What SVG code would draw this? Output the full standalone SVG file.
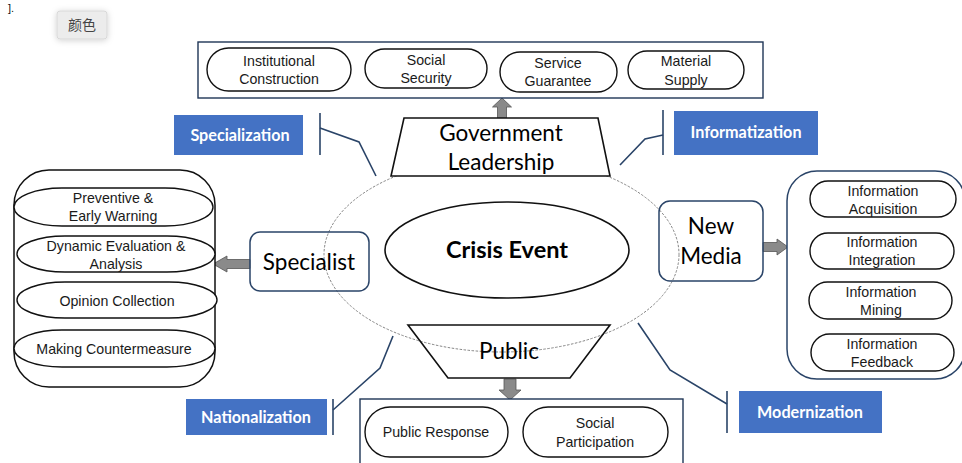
<svg xmlns="http://www.w3.org/2000/svg" width="962" height="463" viewBox="0 0 962 463">
  <defs>
    <filter id="btnShadow" x="-40%" y="-60%" width="180%" height="220%">
      <feDropShadow dx="0" dy="1" stdDeviation="3" flood-color="#000" flood-opacity="0.18"/>
    </filter>
  </defs>
  <style>
    .pill { fill: #fff; stroke: #111; stroke-width: 1.4; }
    .frame { fill: #fff; stroke: #1f3556; stroke-width: 1.4; }
    .navy { fill: #fff; stroke: #2a4468; stroke-width: 1.5; }
    .shape { fill: #fff; stroke: #111; stroke-width: 1.6; }
    .small { font-family: "Liberation Sans", Arial, sans-serif; font-size: 14.2px; fill: #1a1a1a; text-anchor: middle; }
    .big { font-family: Lato, "Liberation Sans", sans-serif; font-size: 22.5px; fill: #000; text-anchor: middle; }
    .tag { fill: #4472c4; }
    .tagtext { font-family: Lato, "Liberation Sans", sans-serif; font-size: 16.2px; font-weight: bold; fill: #fff; text-anchor: middle; }
    .link { fill: none; stroke: #2a4468; stroke-width: 1.6; }
    .arrow { fill: #8a8a8a; stroke: #555; stroke-width: 0.8; }
  </style>

  <!-- fragment of a caption at the top edge -->
  <text x="8" y="12" font-family="Liberation Sans, sans-serif" font-size="11" fill="#111">].</text>

  <!-- colour button -->
  <g id="color-button">
    <rect x="57" y="11" width="50" height="28" rx="3" fill="#ececec" stroke="#d8d8d8" filter="url(#btnShadow)"/>
    <text x="82" y="30" font-family="Noto Sans CJK SC, sans-serif" font-size="14" fill="#444" text-anchor="middle">颜色</text>
  </g>

  <!-- outer dashed ring -->
  <g id="ring">
    <ellipse cx="501.5" cy="254.5" rx="177.5" ry="97.5" fill="none" stroke="#777" stroke-width="0.9" stroke-dasharray="2.5,1.5"/>
  </g>

  <!-- connectors -->
  <g id="connectors">
    <!-- Specialization -->
    <line x1="320" y1="113" x2="320" y2="155" class="link"/>
    <polyline points="320,128 359,142 376,176" class="link"/>
    <!-- Informatization -->
    <line x1="663" y1="110" x2="663" y2="155" class="link"/>
    <polyline points="663,135 645,139 620,165" class="link"/>
    <!-- Modernization -->
    <line x1="727" y1="391" x2="727" y2="433" class="link"/>
    <polyline points="727,404 670,370 638,323" class="link"/>
    <!-- Nationalization -->
    <line x1="333" y1="399" x2="333" y2="435" class="link"/>
    <polyline points="333,410 380,368 393,336" class="link"/>
    <!-- block arrows -->
    <polygon class="arrow" points="497.5,118 497.5,107 492.5,107 502,98 511.5,107 506.5,107 506.5,118"/>
    <polygon class="arrow" points="250,259.5 227,259.5 227,256 213,264 227,272 227,268.5 250,268.5"/>
    <polygon class="arrow" points="763,242.5 777,242.5 777,239 788,247 777,255 777,251.5 763,251.5"/>
    <polygon class="arrow" points="504,379 504,390 499,390 510,400 521,390 516,390 516,379"/>
  </g>

  <!-- government measures -->
  <g id="government-box">
    <rect class="frame" x="198" y="42" width="565" height="56"/>
    <rect class="pill" x="207" y="48" width="144" height="43" rx="21.5"/>
    <text class="small" x="279" y="66">Institutional</text>
    <text class="small" x="279" y="84">Construction</text>
    <rect class="pill" x="365" y="49" width="122" height="39" rx="19.5"/>
    <text class="small" x="426" y="65">Social</text>
    <text class="small" x="426" y="83">Security</text>
    <rect class="pill" x="500" y="52" width="117" height="40" rx="20"/>
    <text class="small" x="558" y="68">Service</text>
    <text class="small" x="558" y="86">Guarantee</text>
    <rect class="pill" x="628" y="51" width="116" height="38" rx="19"/>
    <text class="small" x="686" y="66">Material</text>
    <text class="small" x="686" y="85">Supply</text>
  </g>

  <g id="government-leadership">
    <polygon class="shape" points="404,118 598,118 610,176 391,176"/>
    <text class="big" x="501" y="141">Government</text>
    <text class="big" x="501" y="170">Leadership</text>
  </g>

  <g id="tag-specialization">
    <rect class="tag" x="174" y="115" width="129" height="40"/>
    <text class="tagtext" x="240" y="141">Specialization</text>
  </g>
  <g id="tag-informatization">
    <rect class="tag" x="674" y="111" width="144" height="44"/>
    <text class="tagtext" x="746" y="138">Informatization</text>
  </g>
  <g id="tag-nationalization">
    <rect class="tag" x="186" y="399" width="141" height="36"/>
    <text class="tagtext" x="256" y="423">Nationalization</text>
  </g>
  <g id="tag-modernization">
    <rect class="tag" x="739" y="391" width="143" height="42"/>
    <text class="tagtext" x="810" y="418">Modernization</text>
  </g>

  <g id="crisis-event">
    <ellipse cx="507" cy="250" rx="122" ry="48" fill="#fff" stroke="#111" stroke-width="1.6"/>
    <text x="507" y="258" font-family="Lato, Liberation Sans, sans-serif" font-size="23.5" font-weight="bold" text-anchor="middle" fill="#000">Crisis Event</text>
  </g>

  <!-- specialist side -->
  <g id="specialist">
    <rect class="navy" x="250" y="232" width="119" height="59" rx="10" fill-opacity="0"/>
    <text class="big" x="309" y="270" font-size="21">Specialist</text>
  </g>

  <g id="specialist-tasks">
    <rect x="14" y="170" width="201" height="217" rx="35" fill="#fff" stroke="#111" stroke-width="1.5"/>
    <rect class="pill" x="14" y="188" width="199" height="38" rx="48" ry="19"/>
    <text class="small" x="113" y="203">Preventive  &amp;</text>
    <text class="small" x="113" y="221">Early Warning</text>
    <rect class="pill" x="17" y="236" width="198" height="36" rx="48" ry="18"/>
    <text class="small" x="116" y="251">Dynamic Evaluation &amp;</text>
    <text class="small" x="116" y="269">Analysis</text>
    <rect class="pill" x="17" y="282" width="200" height="36" rx="48" ry="18"/>
    <text class="small" x="117" y="306">Opinion Collection</text>
    <rect class="pill" x="14" y="330" width="201" height="37" rx="48" ry="18.5"/>
    <text class="small" x="114" y="354">Making Countermeasure</text>
  </g>

  <!-- new media side -->
  <g id="new-media">
    <rect class="navy" x="659" y="201" width="104" height="80" rx="11" fill-opacity="0"/>
    <text class="big" x="711" y="234" font-size="24">New</text>
    <text class="big" x="711" y="264" font-size="24">Media</text>
  </g>

  <g id="media-tasks">
    <rect class="navy" x="787" y="171" width="178" height="208" rx="30"/>
    <rect class="pill" x="810" y="181" width="146" height="36" rx="18"/>
    <text class="small" x="883" y="196">Information</text>
    <text class="small" x="883" y="214">Acquisition</text>
    <rect class="pill" x="810" y="233" width="144" height="36" rx="18"/>
    <text class="small" x="882" y="247">Information</text>
    <text class="small" x="882" y="265">Integration</text>
    <rect class="pill" x="809" y="282" width="143" height="37" rx="18.5"/>
    <text class="small" x="881" y="297">Information</text>
    <text class="small" x="881" y="315">Mining</text>
    <rect class="pill" x="811" y="334" width="143" height="37" rx="18.5"/>
    <text class="small" x="882" y="349">Information</text>
    <text class="small" x="882" y="367">Feedback</text>
  </g>

  <!-- public side -->
  <g id="public">
    <polygon points="408,325 610,325 570,378 448,378" fill="#fff" fill-opacity="0" stroke="#111" stroke-width="1.6"/>
    <text class="big" x="509" y="359">Public</text>
  </g>

  <g id="public-tasks">
    <rect class="frame" x="360" y="399" width="323" height="70"/>
    <rect class="pill" x="365" y="407" width="143" height="50" rx="25"/>
    <text class="small" x="436" y="437">Public Response</text>
    <rect class="pill" x="523" y="407" width="145" height="50" rx="25"/>
    <text class="small" x="595" y="428">Social</text>
    <text class="small" x="595" y="447">Participation</text>
  </g>
</svg>
